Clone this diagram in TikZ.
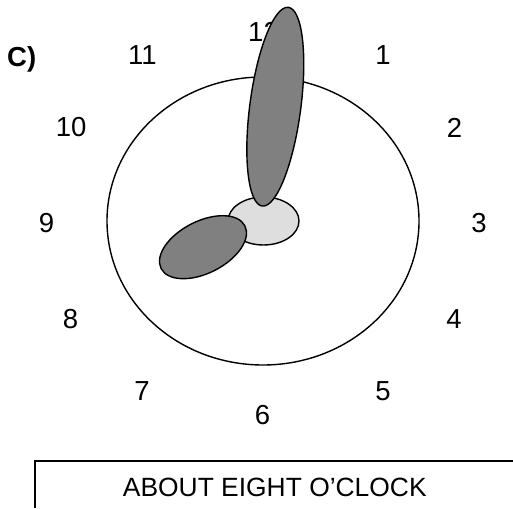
\documentclass[tikz,border=0pt]{standalone}
\usepackage{fontspec}
\setmainfont{Liberation Sans}
\usetikzlibrary{shapes.geometric}
\begin{document}
\begin{tikzpicture}[x=1pt,y=1pt,
  num/.style={inner sep=0pt,anchor=center,font=\fontsize{27.5}{32}\selectfont},
  handdark/.style={draw=black,line width=1.4pt,fill=black!50},
  hub/.style={draw=black,line width=1.4pt,fill=black!13},
  face/.style={draw=black,line width=1.4pt}]
\useasboundingbox (0,0) rectangle (513,508);
% labels
\node[inner sep=0pt,anchor=base west,font=\fontsize{27.5}{32}\selectfont\bfseries] (lab) at (7,441) {C)};
\node[num] (n12) at (263.5,476.5) {12};
\node[num] (n1) at (383,452.5) {1};
\node[num] (n2) at (454.5,380.5) {2};
\node[num] (n3) at (479,285) {3};
\node[num] (n4) at (454,189) {4};
\node[num] (n5) at (383,116.5) {5};
\node[num] (n6) at (262.5,92.5) {6};
\node[num] (n7) at (142,117) {7};
\node[num] (n8) at (70.5,189) {8};
\node[num] (n9) at (46.5,285) {9};
\node[num] (n10) at (71.2,380.7) {10};
\node[num] (n11) at (142.5,452.5) {11};
% clock face
\draw[face] (263,287) ellipse [x radius=156, y radius=144];
% hub
\draw[hub] (263.5,287) ellipse [x radius=35.5, y radius=24];
% hour hand
\draw[handdark] (203,260.8) ellipse [x radius=47, y radius=26, rotate=27];
% minute hand
\draw[handdark] (275.3,401.3) ellipse [x radius=100.2, y radius=25.5, rotate=82.5];
% caption box
\coordinate (bl) at (35,0);
\coordinate (tl) at (35,47);
\coordinate (tr) at (513,47);
\draw[line width=1.4pt] (bl) -- (tl) -- (tr);
\node[inner sep=0pt,anchor=base,font=\fontsize{26.4}{30}\selectfont] (cap) at (274.8,12) {ABOUT EIGHT O’CLOCK};
\end{tikzpicture}
\end{document}
